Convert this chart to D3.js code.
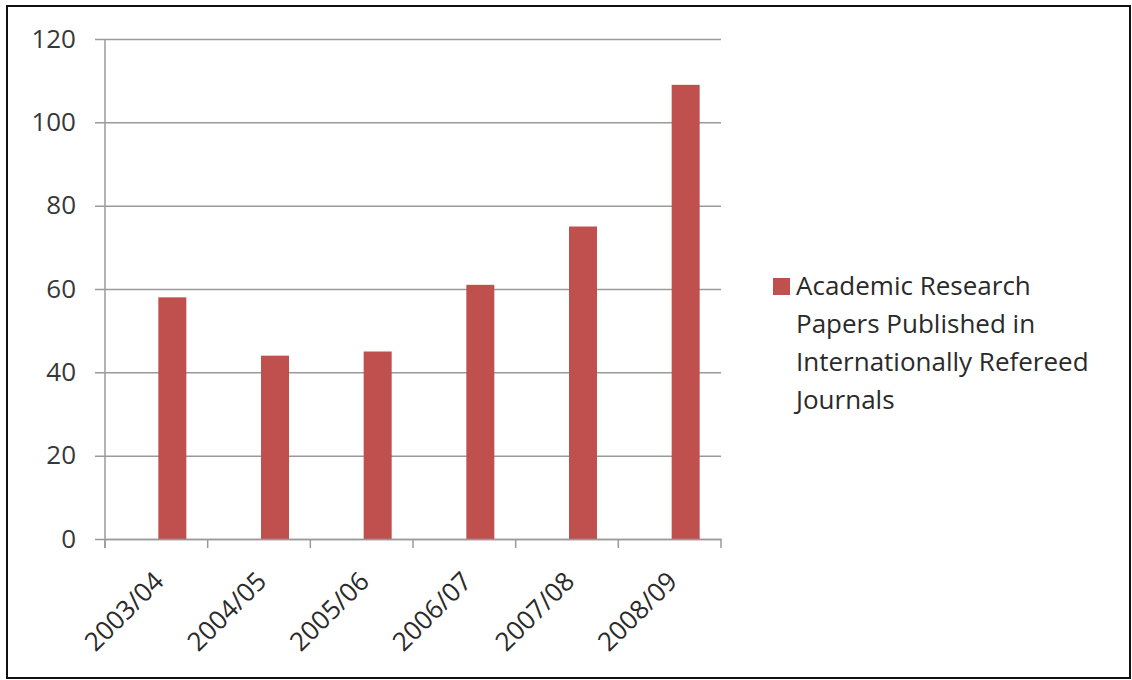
<!DOCTYPE html>
<html>
<head>
<meta charset="utf-8">
<script src="https://cdn.jsdelivr.net/npm/d3@7"></script>
<style>
  html, body { margin: 0; padding: 0; background: #fff; }
  svg { display: block; }
</style>
</head>
<body>
<div id="chart"></div>
<script>
// Data
const years = ["2003/04", "2004/05", "2005/06", "2006/07", "2007/08", "2008/09"];
const papers = [58, 44, 45, 61, 75, 109];
const yTicks = [0, 20, 40, 60, 80, 100, 120];
const legendLines = ["Academic Research", "Papers Published in", "Internationally Refereed", "Journals"];

const width = 1132, height = 680;
const plot = { left: 105, right: 721, top: 39, bottom: 539 };
const barColor = "#c0504d";
const font = "'Open Sans', Lato, sans-serif";

const svg = d3.select("#chart").append("svg")
  .attr("width", width)
  .attr("height", height);

// frame
svg.append("rect")
  .attr("x", 7).attr("y", 6)
  .attr("width", 1123).attr("height", 672)
  .attr("fill", "#fff")
  .attr("stroke", "#111").attr("stroke-width", 2);

const x = d3.scaleBand().domain(years).range([plot.left, plot.right]);
const y = d3.scaleLinear().domain([0, 120]).range([plot.bottom, plot.top]);

// gridlines + y axis
const yAxis = svg.append("g")
  .attr("transform", `translate(${plot.left},0)`)
  .call(d3.axisLeft(y).tickValues(yTicks).tickSize(-(plot.right - plot.left)).tickPadding(29));
yAxis.select(".domain").remove();
yAxis.selectAll(".tick line")
  .attr("x1", -10)
  .attr("stroke", "#9a9a9a").attr("stroke-width", 1.5);
yAxis.selectAll(".tick text")
  .attr("font-family", font).attr("font-size", 26).attr("font-weight", 500).attr("fill", "#383838");

// vertical axis line
svg.append("line")
  .attr("x1", plot.left).attr("x2", plot.left)
  .attr("y1", plot.top).attr("y2", plot.bottom + 9)
  .attr("stroke", "#9a9a9a").attr("stroke-width", 1.5);

// bars (offset to the right of band centre like the original)
const barW = 28;
svg.append("g").selectAll("rect")
  .data(years)
  .enter()
  .append("rect")
  .attr("x", (d) => x(d) + x.bandwidth() / 2 + 16 - barW / 2)
  .attr("y", (d, i) => y(papers[i]))
  .attr("width", barW)
  .attr("height", (d, i) => y(0) - y(papers[i]))
  .attr("fill", barColor);

// x axis
const xAxis = svg.append("g")
  .attr("transform", `translate(0,${plot.bottom})`)
  .call(d3.axisBottom(x).tickSize(0).tickPadding(0));
xAxis.select(".domain").attr("stroke", "#9a9a9a").attr("stroke-width", 1.5);
xAxis.selectAll(".tick text")
  .attr("font-family", font).attr("font-size", 26).attr("font-weight", 500).attr("fill", "#2a2a2a")
  .attr("text-anchor", "end")
  .attr("dy", 0)
  .attr("y", 0)
  .attr("transform", "translate(9,44) rotate(-45)");

// x tick marks at band edges
const edges = years.map((d) => x(d)).concat([plot.right]);
svg.append("g").selectAll("line")
  .data(edges)
  .enter()
  .append("line")
  .attr("x1", (d) => d).attr("x2", (d) => d)
  .attr("y1", plot.bottom).attr("y2", plot.bottom + 9)
  .attr("stroke", "#9a9a9a").attr("stroke-width", 1.5);

// legend
const legend = svg.append("g").attr("transform", "translate(773,278)");
legend.append("rect")
  .attr("width", 17).attr("height", 17)
  .attr("fill", barColor);
legend.selectAll("text")
  .data(legendLines)
  .enter()
  .append("text")
  .attr("x", 23)
  .attr("y", (d, i) => 17 + i * 38)
  .attr("font-family", font).attr("font-size", 26).attr("font-weight", 500).attr("fill", "#2a2a2a")
  .text((d) => d);
</script>
</body>
</html>
